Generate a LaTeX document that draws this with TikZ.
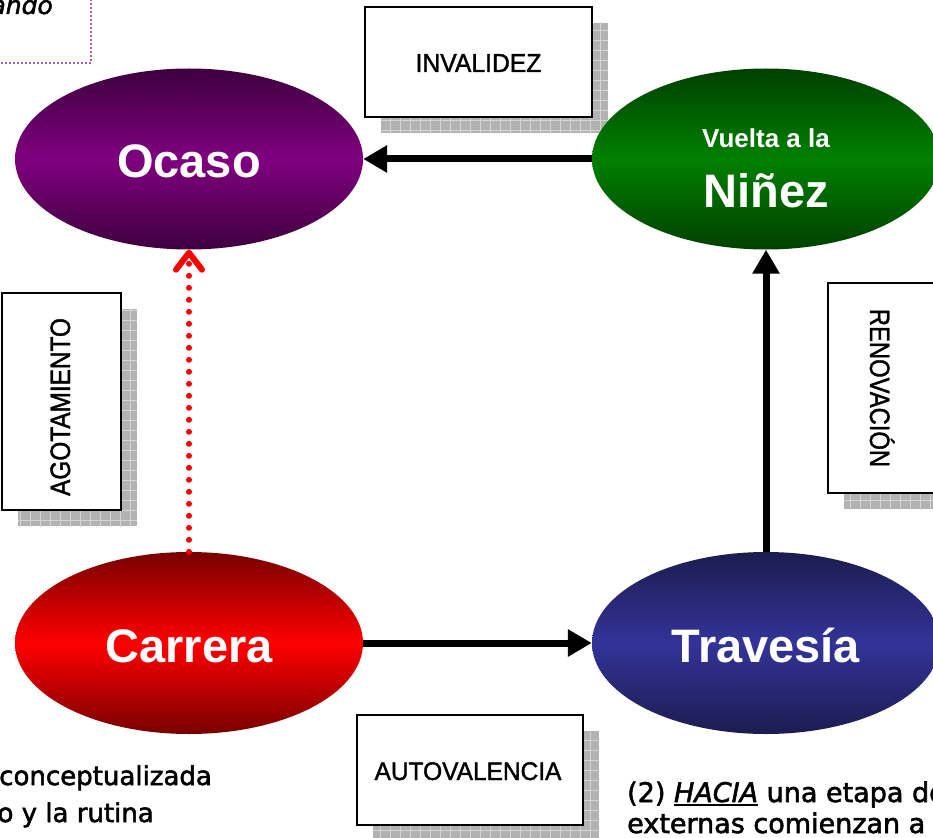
\documentclass[tikz,border=0pt]{standalone}
\usepackage{fontspec}
\usepackage{graphicx}
\setmainfont{Liberation Sans}
\newfontfamily\dvs[FakeBold=2]{DejaVu Sans}
\newfontfamily\boxfont[FakeBold=1.5]{Liberation Sans}
\usetikzlibrary{shapes.geometric,arrows.meta}
\definecolor{ocasoM}{RGB}{128,0,128}
\definecolor{ocasoE}{RGB}{62,0,62}
\definecolor{ninezM}{RGB}{0,128,0}
\definecolor{ninezE}{RGB}{0,64,0}
\definecolor{carreraM}{RGB}{255,0,0}
\definecolor{carreraE}{RGB}{120,0,0}
\definecolor{travM}{RGB}{51,51,153}
\definecolor{travE}{RGB}{28,28,80}
\definecolor{shadowcol}{RGB}{178,178,178}
\definecolor{shadowline}{RGB}{212,212,212}
\definecolor{dotpurple}{RGB}{170,90,180}
\newcommand{\myul}[1]{\setbox0\hbox{#1}\rlap{\rule[-4pt]{\wd0}{2pt}}\box0\relax}
\begin{document}
\begin{tikzpicture}[x=1pt,y=-1pt,
  oval/.style={ellipse, minimum width=348pt, minimum height=181pt, inner sep=0pt},
  etext/.style={text=white, font=\bfseries\fontsize{47}{56}\selectfont, inner sep=0pt},
  lbox/.style={rectangle, draw=black, line width=2pt, fill=white, inner sep=0pt},
  shadowfill/.style={fill=shadowcol},
  shadowgrid/.style={draw=shadowline, line width=0.8pt},
  blkarrow/.style={line width=7pt, -{Triangle[length=24pt,width=26pt]}},
  boxtext/.style={inner sep=0pt},
  bodytext/.style={inner sep=0pt, font=\dvs\fontsize{26}{30}\selectfont}
]
\useasboundingbox (0,0) rectangle (933,837);

% top-left dotted box
\draw[dotpurple, line width=1.6pt, dash pattern=on 2pt off 2pt] (-20,-20) rectangle (91,63);
\node[anchor=base east, inner sep=0pt, font=\dvs\itshape\fontsize{25}{28}\selectfont] (ando) at (53,14) {ando};

% shadows
\fill[shadowfill] (381,23) rectangle (608,133);
\begin{scope}\clip (381,23) rectangle (608,133);
\draw[shadowgrid, step=10pt] (370,10) grid (620,140);\end{scope}
\fill[shadowfill] (373,731) rectangle (599,845);
\begin{scope}\clip (373,731) rectangle (599,845);
\draw[shadowgrid, step=10pt] (370,720) grid (610,850);\end{scope}
\fill[shadowfill] (18,309) rectangle (137,526);
\begin{scope}\clip (18,309) rectangle (137,526);
\draw[shadowgrid, step=10pt] (10,300) grid (140,530);\end{scope}
\fill[shadowfill] (844,299) rectangle (963,509);
\begin{scope}\clip (844,299) rectangle (963,509);
\draw[shadowgrid, step=10pt] (840,290) grid (970,520);\end{scope}

% boxes
\node[lbox, minimum width=227pt, minimum height=110pt] (invbox) at (478.5,62) {};
\node[boxtext, anchor=base] (invtxt) at (478.5,72) {\boxfont\fontsize{26}{30}\selectfont\scalebox{0.95}[1]{INVALIDEZ}};
\node[lbox, minimum width=226pt, minimum height=110pt] (autbox) at (470,770) {};
\node[boxtext, anchor=base] (auttxt) at (468,780) {\boxfont\fontsize{25.5}{30}\selectfont\scalebox{0.96}[1]{AUTOVALENCIA}};
\node[lbox, minimum width=119pt, minimum height=217pt] (agobox) at (61.5,401.5) {};
\node[boxtext, anchor=base, rotate=90] (agotxt) at (70,407) {\boxfont\fontsize{28}{32}\selectfont\scalebox{0.87}[1]{AGOTAMIENTO}};
\node[lbox, minimum width=119pt, minimum height=210pt] (renbox) at (887.5,388) {};
\node[boxtext, anchor=base, rotate=-90] (rentxt) at (870,388) {\boxfont\fontsize{28}{32}\selectfont\scalebox{0.85}[1]{RENOVACIÓN}};

% ellipses
\node[oval, top color=ocasoE, bottom color=ocasoE, middle color=ocasoM] (ocaso) at (189,159) {};
\node[oval, top color=ninezE, bottom color=ninezE, middle color=ninezM] (ninez) at (766,159) {};
\node[oval, minimum height=182pt, top color=carreraE, bottom color=carreraE, middle color=carreraM] (carrera) at (189,643) {};
\node[oval, minimum height=182pt, top color=travE, bottom color=travE, middle color=travM] (travesia) at (766,643) {};

\node[etext, anchor=base] (ocasotxt) at (189,177) {Ocaso};
\node[etext, anchor=base] (carreratxt) at (189,662) {Carrera};
\node[etext, anchor=base] (travtxt) at (766,662) {Travesía};
\node[etext, anchor=base, font=\bfseries\fontsize{26}{30}\selectfont] (vueltatxt) at (766,148) {Vuelta a la};
\node[etext, anchor=base] (ninztxt) at (766,207) {Niñez};

% connectors
\draw[blkarrow] (ninez.west) -- (ocaso.east);
\draw[blkarrow] (carrera.east) -- (travesia.west);
\draw[blkarrow] (travesia.north) -- (ninez.south);
\draw[red, line width=6pt, line cap=round, dash pattern=on 0pt off 12pt,
  -{Straight Barb[length=17pt,width=26pt,round]}] (carrera.north) -- (ocaso.south);

% body texts
\node[bodytext, anchor=base east] (t1) at (212,785) {conceptualizada};
\node[bodytext, anchor=base east] (t2) at (154,822) {o y la rutina};
\node[bodytext, anchor=base west, font=\dvs\fontsize{27}{31}\selectfont] (t3) at (627,802) {(2) \myul{\textit{HACIA}} una etapa do};
\node[bodytext, anchor=base west, font=\dvs\fontsize{27}{31}\selectfont] (t4) at (627,833) {externas comienzan a};
\end{tikzpicture}
\end{document}
